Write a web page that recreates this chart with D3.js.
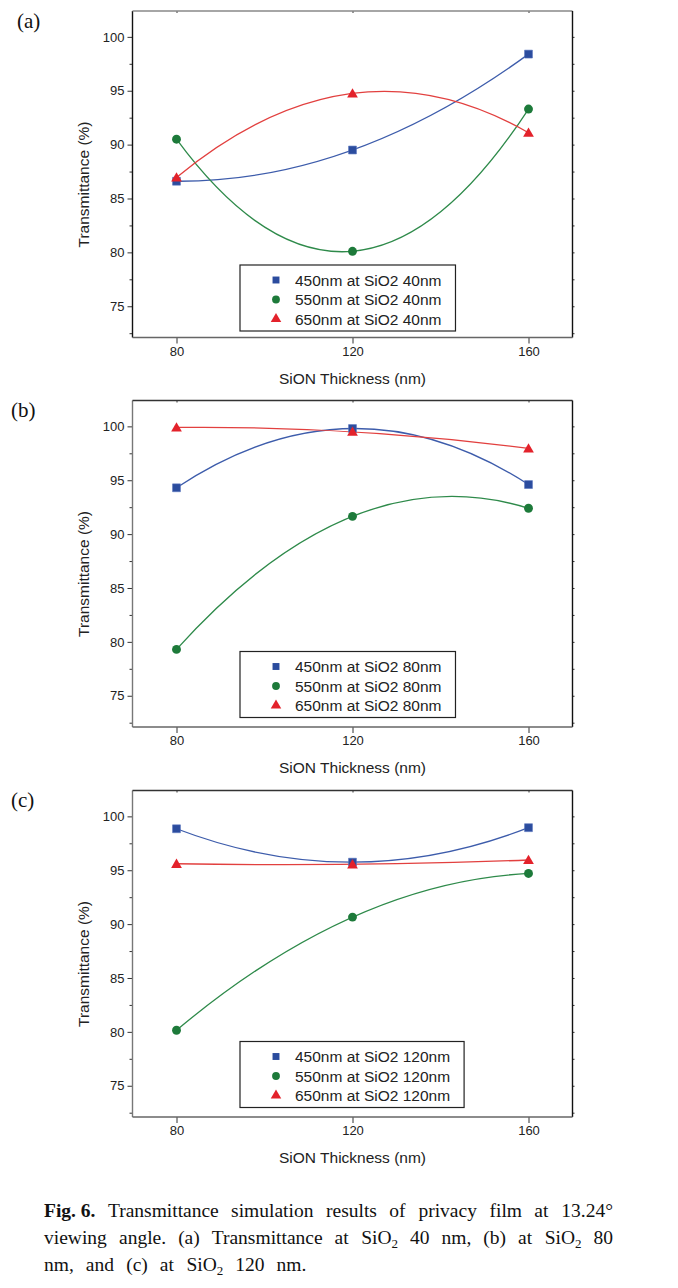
<!DOCTYPE html>
<html><head><meta charset="utf-8">
<script src="https://cdn.jsdelivr.net/npm/d3@7"></script>
<style>
html,body{margin:0;padding:0;background:#fff;}
svg text{font-family:"Liberation Sans",Arial,sans-serif;}
</style></head>
<body>
<svg id="chart" width="678" height="1288"></svg>
<script>
// ---------- data ----------
const thickness = [80, 120, 160];              // SiON thickness (nm)
const xTicks = [80, 120, 160];
const yTicks = [75, 80, 85, 90, 95, 100];
const panelLabels = ["(a)", "(b)", "(c)"];
const sio2 = ["40nm", "80nm", "120nm"];
const seriesNames = ["450nm", "550nm", "650nm"];

// panel (a) SiO2 40 nm
const a450 = [86.6, 89.5, 98.4];
const a550 = [90.5, 80.1, 93.3];
const a650 = [86.95, 94.75, 91.1];
// panel (b) SiO2 80 nm
const b450 = [94.3, 99.8, 94.6];
const b550 = [79.3, 91.65, 92.4];
const b650 = [99.9, 99.5, 97.95];
// panel (c) SiO2 120 nm
const c450 = [98.85, 95.75, 98.95];
const c550 = [80.15, 90.65, 94.7];
const c650 = [95.6, 95.55, 95.95];

const panels = [[a450, a550, a650], [b450, b550, b650], [c450, c550, c650]];

// ---------- style ----------
const markerFill = ["#2b4c9e", "#1d7a3a", "#e3222b"];
const lineCol = ["#3d5cab", "#2e8a4a", "#e2403f"];
const symbols = [d3.symbolSquare, d3.symbolCircle, d3.symbolTriangle];
const symSize = [62, 62, 50];

const svg = d3.select("#chart");

// quadratic curve through three points (parabolic spline used by plotting software)
function curveQuad(context) {
  let pts = [];
  return {
    areaStart() {}, areaEnd() {},
    lineStart() { pts = []; },
    point(x, y) { pts.push([+x, +y]); },
    lineEnd() {
      if (pts.length === 3) {
        const [p0, p1, p2] = pts;
        const cx = 2 * p1[0] - (p0[0] + p2[0]) / 2;
        const cy = 2 * p1[1] - (p0[1] + p2[1]) / 2;
        context.moveTo(p0[0], p0[1]);
        context.quadraticCurveTo(cx, cy, p2[0], p2[1]);
      } else {
        pts.forEach((p, i) => i ? context.lineTo(p[0], p[1]) : context.moveTo(p[0], p[1]));
      }
    }
  };
}

const offsets = [0, 389.5, 779.5];
const labelX = [17, 11, 11];

panels.forEach((series, k) => {
  const oy = offsets[k];
  const top = 11 + oy, bottom = 337.5 + oy;
  const left = 132.5, right = 572.5;
  const x = d3.scaleLinear().domain([70, 170]).range([left, right]);
  const y = d3.scaleLinear().domain([72.1, 102.4]).range([bottom, top]);
  const g = svg.append("g");

  // panel label
  g.append("text").attr("x", labelX[k]).attr("y", 27.5 + oy)
    .style("font-family", '"Liberation Serif","Times New Roman",serif')
    .style("font-size", "21px").attr("fill", "#111").text(panelLabels[k]);

  // axes
  const axL = g.append("g").attr("transform", `translate(${left},0)`)
    .call(d3.axisLeft(y).tickValues(yTicks).tickSize(5).tickPadding(3).tickFormat(d3.format("d")));
  const axLm = g.append("g").attr("transform", `translate(${left},0)`)
    .call(d3.axisLeft(y).tickValues(d3.range(72.5, 102.5, 5)).tickSize(3).tickFormat(""));
  const axR = g.append("g").attr("transform", `translate(${right},0)`)
    .call(d3.axisRight(y).tickValues(d3.range(72.5, 102.5, 2.5)).tickSize(2).tickFormat(""));
  const axB = g.append("g").attr("transform", `translate(0,${bottom})`)
    .call(d3.axisBottom(x).tickValues(xTicks).tickSize(6).tickPadding(3).tickFormat(d3.format("d")));
  const axT = g.append("g").attr("transform", `translate(0,${top})`)
    .call(d3.axisBottom(x).tickValues(xTicks).tickSize(2).tickFormat(""));
  [axL, axLm, axR, axB, axT].forEach(a => {
    a.select(".domain").remove();
    a.selectAll("line").attr("stroke", "#333").attr("stroke-width", 1);
    a.selectAll("text").style("font-size", "13px").attr("fill", "#222");
  });
  // frame lines
  const fc = k === 0 ? ["#111", "#888", "#111", "#666"] : ["#777", "#333", "#111", "#666"];
  g.append("line").attr("x1", left).attr("x2", left).attr("y1", top).attr("y2", bottom).attr("stroke", fc[0]).attr("stroke-width", 1.4);
  g.append("line").attr("x1", left).attr("x2", right).attr("y1", top).attr("y2", top).attr("stroke", fc[1]).attr("stroke-width", 1.6);
  g.append("line").attr("x1", right).attr("x2", right).attr("y1", top).attr("y2", bottom).attr("stroke", fc[2]).attr("stroke-width", 1.4);
  g.append("line").attr("x1", left).attr("x2", right).attr("y1", bottom).attr("y2", bottom).attr("stroke", fc[3]).attr("stroke-width", 1.6);

  // axis titles
  g.append("text").attr("x", (left + right) / 2).attr("y", bottom + 46)
    .attr("text-anchor", "middle").style("font-size", "15.5px").attr("fill", "#222")
    .text("SiON Thickness (nm)");
  g.append("text").attr("transform", `translate(89,${top + 173.5}) rotate(-90)`)
    .attr("text-anchor", "middle").style("font-size", "15.5px").attr("fill", "#222")
    .text("Transmittance (%)");

  // curves and markers
  const line = d3.line().x((d, i) => x(thickness[i])).y(d => y(d)).curve(curveQuad);
  series.forEach((vals, s) => {
    g.append("path").datum(vals).attr("d", line).attr("fill", "none")
      .attr("stroke", lineCol[s]).attr("stroke-width", 1.3);
  });
  series.forEach((vals, s) => {
    g.selectAll(null).data(vals).enter().append("path")
      .attr("d", d3.symbol(symbols[s], symSize[s]))
      .attr("transform", (d, i) => `translate(${x(thickness[i])},${y(d) + (s === 2 ? 1 : 0)})`)
      .attr("fill", markerFill[s]).attr("stroke", s === 0 ? "#5874bd" : "none").attr("stroke-width", 0.6);
  });

  // legend
  const lg = g.append("g");
  const lx = 240, ly = 265 + oy - (k ? 3 : 0);
  const box = lg.append("rect").attr("x", lx).attr("y", ly).attr("height", 66)
    .attr("fill", "#fff").attr("stroke", "#222").attr("stroke-width", 1.2);
  let maxW = 0;
  seriesNames.forEach((nm, s) => {
    const ry = ly + 15 + s * 19.5;
    lg.append("path").attr("d", d3.symbol(symbols[s], s === 2 ? 48 : 48))
      .attr("transform", `translate(${lx + 36},${ry})`).attr("fill", markerFill[s]);
    const t = lg.append("text").attr("x", lx + 55).attr("y", ry + 5.5)
      .style("font-size", "15.5px").attr("fill", "#222").text(`${nm} at SiO2 ${sio2[k]}`);
    maxW = Math.max(maxW, t.node().getComputedTextLength());
  });
  box.attr("width", 55 + maxW + 14);
});

// caption
const capFont = '"Liberation Serif","Times New Roman",serif';
const capLines = [
  [{t: "Fig. 6.", b: true}, {t: "Transmittance"}, {t: "simulation"}, {t: "results"}, {t: "of"}, {t: "privacy"}, {t: "film"}, {t: "at"}, {t: "13.24°"}],
  [{t: "viewing"}, {t: "angle."}, {t: "(a)"}, {t: "Transmittance"}, {t: "at"}, {t: "SiO", sub: "2"}, {t: "40"}, {t: "nm,"}, {t: "(b)"}, {t: "at"}, {t: "SiO", sub: "2"}, {t: "80"}],
  [{t: "nm,"}, {t: "and"}, {t: "(c)"}, {t: "at"}, {t: "SiO", sub: "2"}, {t: "120"}, {t: "nm."}]
];
const capX0 = 44, capX1 = 613, capY = [1216.5, 1243.5, 1270.5];
let lastGap = 8;
capLines.forEach((words, li) => {
  const nodes = words.map(w => {
    const t = svg.append("text").attr("y", capY[li]).style("font-family", capFont)
      .style("font-size", "19.5px").attr("fill", "#111");
    if (w.b) {
      t.append("tspan").style("font-weight", "bold").text(w.t);
    } else {
      t.append("tspan").text(w.t);
    }
    if (w.sub) t.append("tspan").attr("dy", 4).style("font-size", "13px").text(w.sub);
    return t;
  });
  const widths = nodes.map(n => n.node().getBBox().width);
  const total = d3.sum(widths);
  let gap = li < 2 ? (capX1 - capX0 - total) / (words.length - 1) : lastGap;
  if (li < 2) lastGap = gap;
  let cx = capX0;
  nodes.forEach((n, i) => { n.attr("x", cx); cx += widths[i] + gap; });
});
</script>
</body></html>
